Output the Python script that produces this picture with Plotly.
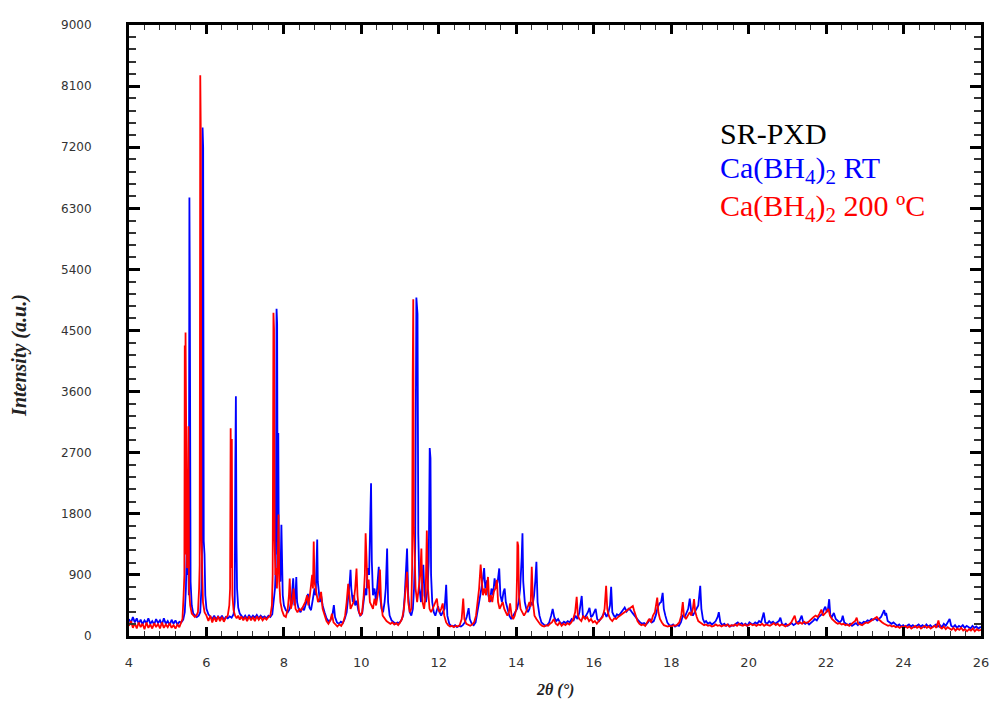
import plotly.graph_objects as go

# Ca(BH4)2 RT pattern (2theta in degrees, intensity a.u.)
rt_points = [
    (4.00, 250), (4.05, 190), (4.10, 280), (4.15, 200), (4.20, 260), (4.25, 180), (4.30, 240), (4.35, 170),
    (4.40, 230), (4.45, 190), (4.50, 260), (4.55, 180), (4.60, 220), (4.65, 170), (4.70, 250), (4.75, 190),
    (4.80, 230), (4.85, 170), (4.90, 260), (4.95, 180), (5.00, 220), (5.05, 160), (5.10, 240), (5.15, 180),
    (5.20, 230), (5.25, 170), (5.30, 210), (5.35, 200), (5.40, 240), (5.44, 350), (5.47, 700), (5.49, 1280),
    (5.51, 900), (5.53, 1100), (5.545, 600), (5.56, 6460), (5.57, 5200), (5.59, 800), (5.62, 450), (5.66, 330),
    (5.70, 300), (5.75, 280), (5.80, 300), (5.84, 350), (5.87, 700), (5.885, 1300), (5.90, 7490), (5.915, 7190),
    (5.93, 1400), (5.95, 1200), (5.97, 600), (6.00, 400), (6.05, 320), (6.10, 290), (6.15, 250), (6.20, 300),
    (6.25, 240), (6.30, 290), (6.35, 250), (6.40, 300), (6.45, 240), (6.50, 280), (6.55, 260), (6.60, 290),
    (6.65, 270), (6.70, 320), (6.73, 500), (6.745, 2500), (6.76, 3530), (6.775, 1400), (6.79, 700), (6.82, 420),
    (6.86, 330), (6.90, 300), (6.95, 260), (7.00, 300), (7.05, 250), (7.10, 310), (7.15, 260), (7.20, 300),
    (7.25, 270), (7.30, 310), (7.35, 260), (7.40, 300), (7.45, 270), (7.50, 290), (7.55, 260), (7.60, 300),
    (7.65, 280), (7.70, 320), (7.74, 500), (7.77, 700), (7.79, 1000), (7.81, 4820), (7.825, 4600), (7.84, 1200),
    (7.855, 2990), (7.87, 1100), (7.89, 900), (7.91, 800), (7.935, 1640), (7.95, 900), (7.97, 600), (8.00, 450),
    (8.05, 380), (8.10, 350), (8.15, 400), (8.20, 550), (8.24, 850), (8.27, 450), (8.30, 600), (8.32, 870),
    (8.34, 500), (8.38, 400), (8.43, 350), (8.48, 420), (8.52, 380), (8.58, 500), (8.62, 620), (8.66, 420),
    (8.70, 380), (8.75, 550), (8.79, 700), (8.82, 600), (8.86, 1420), (8.875, 800), (8.90, 650), (8.93, 500),
    (8.96, 600), (9.00, 450), (9.05, 350), (9.10, 260), (9.15, 220), (9.20, 230), (9.25, 300), (9.29, 455),
    (9.32, 280), (9.37, 200), (9.42, 180), (9.47, 210), (9.52, 190), (9.57, 250), (9.62, 350), (9.67, 600),
    (9.70, 800), (9.72, 975), (9.74, 700), (9.78, 500), (9.81, 600), (9.84, 450), (9.88, 520), (9.92, 380),
    (9.97, 300), (10.02, 330), (10.06, 500), (10.10, 700), (10.13, 600), (10.16, 1000), (10.20, 900), (10.23, 1590),
    (10.25, 2250), (10.27, 1100), (10.30, 600), (10.34, 700), (10.38, 500), (10.42, 800), (10.45, 1020), (10.48, 600),
    (10.52, 400), (10.56, 350), (10.60, 500), (10.63, 700), (10.665, 1290), (10.69, 500), (10.73, 300), (10.78, 230),
    (10.83, 200), (10.88, 180), (10.93, 200), (10.98, 190), (11.03, 230), (11.08, 300), (11.12, 600), (11.15, 1000),
    (11.18, 1290), (11.21, 600), (11.25, 350), (11.29, 300), (11.33, 400), (11.36, 700), (11.39, 1300), (11.42, 4985),
    (11.45, 4744), (11.47, 1500), (11.50, 700), (11.54, 500), (11.58, 800), (11.60, 1050), (11.63, 600), (11.67, 500),
    (11.71, 700), (11.74, 1100), (11.765, 2768), (11.785, 2616), (11.80, 900), (11.83, 500), (11.87, 350), (11.91, 300),
    (11.95, 380), (11.98, 440), (12.02, 350), (12.06, 300), (12.10, 350), (12.15, 400), (12.19, 754), (12.22, 300),
    (12.27, 180), (12.32, 150), (12.37, 140), (12.42, 160), (12.47, 130), (12.52, 150), (12.57, 140), (12.62, 160),
    (12.67, 200), (12.72, 280), (12.77, 410), (12.80, 250), (12.85, 180), (12.90, 160), (12.95, 200), (13.00, 350),
    (13.05, 500), (13.10, 700), (13.14, 850), (13.17, 1000), (13.20, 700), (13.25, 820), (13.28, 600), (13.32, 500),
    (13.36, 700), (13.40, 600), (13.44, 850), (13.48, 700), (13.52, 800), (13.56, 995), (13.59, 600), (13.63, 500),
    (13.67, 650), (13.70, 700), (13.73, 500), (13.77, 400), (13.82, 300), (13.87, 250), (13.92, 300), (13.97, 350),
    (14.02, 400), (14.06, 500), (14.10, 700), (14.14, 1160), (14.16, 1512), (14.18, 800), (14.22, 500), (14.26, 400),
    (14.30, 350), (14.34, 400), (14.38, 500), (14.42, 450), (14.46, 600), (14.49, 800), (14.52, 1094), (14.55, 500),
    (14.60, 300), (14.65, 200), (14.70, 170), (14.75, 150), (14.80, 160), (14.85, 200), (14.90, 300), (14.94, 400),
    (14.98, 280), (15.03, 220), (15.08, 250), (15.13, 200), (15.18, 180), (15.23, 210), (15.28, 190), (15.33, 220),
    (15.38, 200), (15.43, 250), (15.48, 230), (15.53, 300), (15.58, 250), (15.63, 350), (15.69, 590), (15.72, 300),
    (15.76, 260), (15.80, 300), (15.85, 350), (15.89, 414), (15.93, 280), (15.97, 300), (16.01, 350), (16.05, 400),
    (16.09, 250), (16.14, 220), (16.19, 260), (16.24, 300), (16.28, 350), (16.33, 280), (16.38, 350), (16.42, 450),
    (16.45, 724), (16.48, 350), (16.52, 300), (16.56, 280), (16.60, 320), (16.65, 300), (16.70, 350), (16.75, 380),
    (16.80, 420), (16.85, 360), (16.90, 400), (16.95, 380), (17.00, 340), (17.05, 300), (17.10, 260), (17.15, 230),
    (17.20, 200), (17.25, 180), (17.30, 190), (17.35, 170), (17.40, 200), (17.45, 250), (17.50, 200), (17.55, 220),
    (17.60, 300), (17.65, 420), (17.70, 480), (17.74, 500), (17.78, 635), (17.81, 400), (17.85, 300), (17.90, 200),
    (17.95, 160), (18.00, 150), (18.05, 170), (18.10, 140), (18.15, 160), (18.20, 150), (18.25, 200), (18.30, 300),
    (18.35, 280), (18.40, 350), (18.44, 400), (18.48, 550), (18.52, 350), (18.56, 300), (18.60, 350), (18.65, 400),
    (18.70, 450), (18.75, 739), (18.78, 400), (18.82, 250), (18.86, 200), (18.90, 220), (18.95, 180), (19.00, 200),
    (19.05, 170), (19.10, 190), (19.15, 220), (19.20, 280), (19.23, 350), (19.27, 200), (19.32, 160), (19.37, 180),
    (19.42, 150), (19.47, 170), (19.52, 140), (19.57, 160), (19.62, 150), (19.67, 180), (19.72, 200), (19.77, 170),
    (19.82, 190), (19.87, 160), (19.92, 180), (19.97, 150), (20.02, 200), (20.07, 180), (20.12, 170), (20.17, 200),
    (20.22, 180), (20.27, 220), (20.32, 200), (20.36, 280), (20.39, 345), (20.43, 200), (20.48, 180), (20.53, 220),
    (20.58, 190), (20.63, 210), (20.68, 180), (20.73, 200), (20.78, 220), (20.82, 270), (20.86, 180), (20.91, 160),
    (20.96, 180), (21.01, 150), (21.06, 170), (21.11, 190), (21.16, 160), (21.21, 180), (21.26, 200), (21.31, 220),
    (21.37, 300), (21.41, 200), (21.46, 180), (21.51, 200), (21.56, 170), (21.61, 190), (21.66, 220), (21.71, 250),
    (21.76, 230), (21.81, 280), (21.86, 300), (21.91, 330), (21.95, 400), (21.98, 430), (22.02, 350), (22.05, 400),
    (22.08, 542), (22.11, 300), (22.15, 280), (22.20, 340), (22.25, 250), (22.30, 220), (22.35, 200), (22.40, 230),
    (22.43, 300), (22.47, 200), (22.52, 180), (22.57, 160), (22.62, 180), (22.67, 150), (22.72, 170), (22.77, 190),
    (22.82, 160), (22.87, 200), (22.92, 180), (22.97, 210), (23.02, 200), (23.07, 230), (23.12, 220), (23.17, 250),
    (23.22, 240), (23.27, 260), (23.32, 230), (23.37, 250), (23.42, 280), (23.46, 330), (23.50, 380), (23.53, 300),
    (23.55, 340), (23.59, 220), (23.64, 200), (23.69, 180), (23.74, 200), (23.79, 170), (23.84, 150), (23.89, 170),
    (23.94, 140), (23.99, 160), (24.04, 130), (24.09, 150), (24.14, 170), (24.19, 140), (24.24, 160), (24.29, 130),
    (24.34, 150), (24.39, 170), (24.44, 140), (24.49, 160), (24.54, 130), (24.59, 170), (24.64, 140), (24.69, 160),
    (24.74, 130), (24.79, 150), (24.84, 170), (24.89, 140), (24.94, 160), (24.99, 130), (25.04, 180), (25.09, 150),
    (25.14, 200), (25.19, 250), (25.23, 150), (25.28, 130), (25.33, 160), (25.38, 120), (25.43, 150), (25.48, 130),
    (25.53, 160), (25.58, 120), (25.63, 150), (25.68, 130), (25.73, 110), (25.78, 150), (25.83, 120), (25.88, 140),
    (25.93, 110), (25.98, 130), (26.00, 120),
]

# Ca(BH4)2 200 ºC pattern
ht_points = [
    (4.00, 150), (4.05, 220), (4.10, 120), (4.15, 190), (4.20, 110), (4.25, 200), (4.30, 130), (4.35, 180),
    (4.40, 100), (4.45, 200), (4.50, 120), (4.55, 170), (4.60, 110), (4.65, 190), (4.70, 130), (4.75, 180),
    (4.80, 110), (4.85, 200), (4.90, 120), (4.95, 170), (5.00, 130), (5.05, 190), (5.10, 120), (5.15, 160),
    (5.20, 110), (5.25, 170), (5.30, 130), (5.35, 190), (5.38, 250), (5.41, 600), (5.43, 900), (5.44, 4280),
    (5.45, 1200), (5.46, 4470), (5.48, 1300), (5.50, 1000), (5.52, 1200), (5.535, 3090), (5.55, 700), (5.58, 450),
    (5.62, 330), (5.66, 300), (5.70, 280), (5.74, 300), (5.78, 350), (5.81, 700), (5.825, 1050), (5.84, 8260),
    (5.855, 7330), (5.87, 1460), (5.885, 800), (5.91, 500), (5.95, 350), (6.00, 300), (6.05, 220), (6.10, 300),
    (6.15, 200), (6.20, 280), (6.25, 210), (6.30, 290), (6.35, 220), (6.40, 280), (6.45, 210), (6.50, 270),
    (6.55, 300), (6.59, 450), (6.61, 700), (6.625, 3060), (6.64, 1000), (6.655, 2900), (6.67, 600), (6.70, 380),
    (6.74, 300), (6.78, 260), (6.82, 300), (6.86, 240), (6.90, 290), (6.95, 230), (7.00, 280), (7.05, 220),
    (7.10, 290), (7.15, 230), (7.20, 280), (7.25, 220), (7.30, 290), (7.35, 240), (7.40, 280), (7.45, 230),
    (7.50, 270), (7.55, 240), (7.60, 280), (7.65, 300), (7.69, 450), (7.71, 900), (7.73, 4760), (7.745, 4520),
    (7.76, 1400), (7.78, 900), (7.80, 1000), (7.82, 700), (7.845, 1200), (7.86, 1790), (7.88, 800), (7.91, 500),
    (7.95, 380), (8.00, 300), (8.05, 280), (8.10, 400), (8.13, 600), (8.15, 847), (8.18, 400), (8.22, 500),
    (8.25, 700), (8.27, 600), (8.30, 400), (8.35, 350), (8.40, 400), (8.45, 380), (8.50, 450), (8.55, 500),
    (8.60, 600), (8.63, 450), (8.67, 600), (8.70, 800), (8.73, 900), (8.75, 700), (8.77, 1390), (8.79, 800),
    (8.82, 700), (8.85, 600), (8.88, 500), (8.92, 550), (8.96, 650), (9.00, 400), (9.05, 300), (9.10, 220),
    (9.15, 180), (9.20, 230), (9.24, 330), (9.28, 200), (9.33, 170), (9.38, 140), (9.43, 170), (9.48, 150),
    (9.53, 200), (9.58, 300), (9.62, 500), (9.66, 770), (9.69, 600), (9.72, 400), (9.76, 450), (9.80, 500),
    (9.84, 700), (9.875, 995), (9.90, 600), (9.94, 350), (9.98, 300), (10.02, 350), (10.06, 600), (10.09, 900),
    (10.11, 1512), (10.13, 1000), (10.16, 700), (10.19, 830), (10.22, 500), (10.26, 450), (10.30, 400), (10.34, 550),
    (10.38, 450), (10.42, 600), (10.45, 700), (10.48, 980), (10.51, 500), (10.55, 300), (10.60, 250), (10.65, 220),
    (10.70, 200), (10.75, 180), (10.80, 200), (10.85, 170), (10.90, 190), (10.95, 160), (11.00, 200), (11.05, 250),
    (11.10, 400), (11.14, 700), (11.18, 946), (11.21, 500), (11.25, 350), (11.29, 400), (11.31, 1000), (11.325, 3754),
    (11.34, 4961), (11.355, 1600), (11.37, 1200), (11.40, 700), (11.44, 500), (11.48, 700), (11.52, 900), (11.55, 1290),
    (11.58, 500), (11.62, 400), (11.66, 600), (11.69, 1552), (11.72, 700), (11.76, 400), (11.80, 350), (11.84, 400),
    (11.88, 450), (11.92, 500), (11.95, 552), (11.98, 400), (12.02, 350), (12.06, 400), (12.10, 480), (12.14, 300),
    (12.19, 200), (12.24, 160), (12.29, 140), (12.34, 150), (12.39, 130), (12.44, 150), (12.49, 140), (12.54, 160),
    (12.59, 250), (12.63, 552), (12.66, 250), (12.71, 180), (12.76, 160), (12.81, 150), (12.86, 170), (12.91, 200),
    (12.96, 300), (13.00, 500), (13.04, 700), (13.08, 1054), (13.11, 800), (13.14, 600), (13.18, 700), (13.22, 600),
    (13.27, 870), (13.30, 500), (13.34, 600), (13.38, 500), (13.42, 650), (13.46, 700), (13.50, 827), (13.53, 500),
    (13.57, 400), (13.61, 450), (13.65, 500), (13.69, 400), (13.73, 350), (13.77, 300), (13.81, 350), (13.84, 480),
    (13.88, 300), (13.92, 250), (13.96, 300), (14.00, 400), (14.02, 900), (14.03, 1390), (14.05, 1330), (14.07, 600),
    (14.11, 400), (14.15, 350), (14.20, 300), (14.25, 350), (14.30, 450), (14.34, 500), (14.37, 430), (14.40, 1020),
    (14.43, 500), (14.47, 300), (14.52, 250), (14.57, 200), (14.62, 170), (14.67, 150), (14.72, 140), (14.77, 160),
    (14.82, 150), (14.87, 180), (14.92, 200), (14.97, 250), (15.02, 180), (15.07, 160), (15.12, 200), (15.17, 150),
    (15.22, 180), (15.27, 160), (15.32, 190), (15.37, 170), (15.42, 200), (15.47, 250), (15.52, 350), (15.56, 576),
    (15.59, 300), (15.63, 250), (15.68, 220), (15.73, 300), (15.78, 250), (15.83, 280), (15.88, 220), (15.93, 250),
    (15.98, 200), (16.03, 220), (16.08, 180), (16.13, 220), (16.18, 250), (16.23, 280), (16.28, 400), (16.32, 739),
    (16.35, 400), (16.39, 300), (16.43, 250), (16.48, 220), (16.53, 260), (16.58, 250), (16.63, 280), (16.68, 300),
    (16.73, 320), (16.78, 350), (16.83, 370), (16.88, 380), (16.93, 400), (16.97, 420), (17.01, 443), (17.04, 380),
    (17.08, 300), (17.13, 220), (17.18, 180), (17.23, 160), (17.28, 170), (17.33, 150), (17.38, 200), (17.43, 250),
    (17.48, 200), (17.53, 300), (17.58, 350), (17.61, 450), (17.64, 566), (17.67, 350), (17.71, 250), (17.76, 200),
    (17.81, 160), (17.86, 150), (17.91, 140), (17.96, 150), (18.01, 140), (18.06, 160), (18.11, 150), (18.16, 170),
    (18.21, 200), (18.26, 300), (18.30, 500), (18.33, 300), (18.38, 250), (18.43, 300), (18.48, 350), (18.52, 300),
    (18.56, 400), (18.59, 542), (18.62, 360), (18.66, 280), (18.70, 220), (18.75, 200), (18.80, 180), (18.85, 160),
    (18.90, 170), (18.95, 150), (19.00, 160), (19.05, 140), (19.10, 150), (19.15, 170), (19.20, 150), (19.25, 160),
    (19.30, 140), (19.35, 160), (19.40, 150), (19.45, 170), (19.50, 140), (19.55, 160), (19.60, 150), (19.65, 170),
    (19.70, 150), (19.75, 180), (19.80, 160), (19.85, 150), (19.90, 170), (19.95, 150), (20.00, 160), (20.05, 180),
    (20.10, 160), (20.15, 170), (20.20, 150), (20.25, 170), (20.30, 160), (20.35, 180), (20.40, 150), (20.45, 170),
    (20.50, 160), (20.55, 150), (20.60, 170), (20.65, 190), (20.70, 160), (20.75, 180), (20.80, 150), (20.85, 170),
    (20.90, 160), (20.95, 140), (21.00, 160), (21.05, 170), (21.10, 200), (21.15, 250), (21.19, 300), (21.23, 200),
    (21.28, 180), (21.33, 200), (21.38, 180), (21.43, 210), (21.48, 190), (21.53, 200), (21.58, 230), (21.63, 250),
    (21.68, 280), (21.73, 300), (21.78, 280), (21.83, 330), (21.88, 389), (21.92, 300), (21.96, 320), (22.00, 350),
    (22.06, 400), (22.10, 300), (22.15, 250), (22.20, 220), (22.25, 200), (22.30, 180), (22.35, 190), (22.40, 170),
    (22.45, 180), (22.50, 160), (22.55, 170), (22.60, 150), (22.65, 170), (22.70, 190), (22.75, 220), (22.79, 270),
    (22.83, 180), (22.88, 170), (22.93, 160), (22.98, 180), (23.03, 200), (23.08, 190), (23.13, 210), (23.18, 230),
    (23.23, 250), (23.28, 260), (23.31, 280), (23.35, 250), (23.40, 220), (23.45, 200), (23.50, 180), (23.55, 170),
    (23.60, 150), (23.65, 160), (23.70, 140), (23.75, 150), (23.80, 130), (23.85, 140), (23.90, 120), (23.95, 140),
    (24.00, 130), (24.05, 150), (24.10, 120), (24.15, 140), (24.20, 110), (24.25, 130), (24.30, 150), (24.35, 120),
    (24.40, 140), (24.45, 110), (24.50, 130), (24.55, 150), (24.60, 120), (24.65, 140), (24.70, 110), (24.75, 130),
    (24.80, 150), (24.85, 120), (24.90, 230), (24.94, 130), (24.99, 110), (25.04, 140), (25.09, 100), (25.14, 130),
    (25.19, 110), (25.24, 90), (25.29, 120), (25.34, 80), (25.39, 110), (25.44, 90), (25.49, 120), (25.54, 80),
    (25.59, 100), (25.64, 70), (25.69, 100), (25.74, 80), (25.79, 110), (25.84, 70), (25.89, 100), (25.94, 80),
    (26.00, 90),
]

rt_x = [p[0] for p in rt_points]
rt_y = [p[1] for p in rt_points]
ht_x = [p[0] for p in ht_points]
ht_y = [p[1] for p in ht_points]

x_ticks = [4, 6, 8, 10, 12, 14, 16, 18, 20, 22, 24, 26]
y_ticks = [0, 900, 1800, 2700, 3600, 4500, 5400, 6300, 7200, 8100, 9000]
x_range = [4, 26]
y_range = [0, 9000]

legend_lines = ["SR-PXD", "Ca(BH<sub>4</sub>)<sub>2</sub> RT", "Ca(BH<sub>4</sub>)<sub>2</sub> 200 ºC"]
legend_colors = ["#000000", "#0000FF", "#FF0000"]
legend_y = [0.822, 0.762, 0.700]

fig = go.Figure()
fig.add_trace(go.Scatter(x=rt_x, y=rt_y, mode="lines", line=dict(color="#0000FF", width=1.8),
                         name="Ca(BH4)2 RT", showlegend=False, xaxis="x", yaxis="y"))
# the 200 ºC pattern uses the overlaying (top/right) axes, which share the same ranges
fig.add_trace(go.Scatter(x=ht_x, y=ht_y, mode="lines", line=dict(color="#FF0000", width=1.8),
                         name="Ca(BH4)2 200 ºC", showlegend=False, xaxis="x2", yaxis="y2"))

axis_common = dict(showline=True, linecolor="black", linewidth=3, ticks="inside",
                   tickcolor="black", showgrid=False, zeroline=False, automargin=False)
x_minor = dict(ticks="inside", dtick=0.4, tick0=4, ticklen=5, tickwidth=1.2, tickcolor="#333")
y_minor = dict(ticks="inside", dtick=180, tick0=0, ticklen=7, tickwidth=1.5, tickcolor="#333")

fig.update_layout(
    xaxis=dict(range=x_range, tickvals=x_ticks, ticktext=[str(v) for v in x_ticks],
               ticklen=9, tickwidth=2.5, minor=x_minor,
               tickfont=dict(family="DejaVu Sans", size=13, color="#333"),
               ticklabelstandoff=12, **axis_common),
    yaxis=dict(range=y_range, tickvals=y_ticks, ticktext=[str(v) for v in y_ticks],
               ticklen=11, tickwidth=3, minor=y_minor,
               tickfont=dict(family="DejaVu Sans", size=12, color="#333"),
               ticklabelstandoff=32, **axis_common),
    xaxis2=dict(range=x_range, tickvals=x_ticks, overlaying="x", side="top", anchor="y2",
                ticklen=9, tickwidth=2.5, minor=x_minor, showticklabels=False, **axis_common),
    yaxis2=dict(range=y_range, tickvals=y_ticks, overlaying="y", side="right", anchor="x2",
                ticklen=11, tickwidth=3, minor=y_minor, showticklabels=False, **axis_common),
)

annotations = [
    dict(text="<b><i>2θ (°)</i></b>", xref="paper", yref="paper", x=0.5, y=-0.088, xanchor="center",
         yanchor="middle", showarrow=False, font=dict(family="Liberation Serif", size=16, color="#222")),
    dict(text="<b><i>Intensity (a.u.)</i></b>", xref="paper", yref="paper", x=-0.128, y=0.46,
         xanchor="center", yanchor="middle", textangle=-90, showarrow=False,
         font=dict(family="Liberation Serif", size=20, color="#222")),
]
for txt, col, yy in zip(legend_lines, legend_colors, legend_y):
    annotations.append(dict(text=txt, xref="paper", yref="paper", x=0.691, y=yy, xanchor="left",
                            yanchor="middle", showarrow=False,
                            font=dict(family="Liberation Serif", size=30, color=col)))

fig.update_layout(width=990, height=704, margin=dict(l=129, r=9, t=25, b=68),
                  paper_bgcolor="white", plot_bgcolor="white", annotations=annotations)

fig.write_html("out.html", config={"displayModeBar": False},
               post_script="document.body.style.margin='0';")
